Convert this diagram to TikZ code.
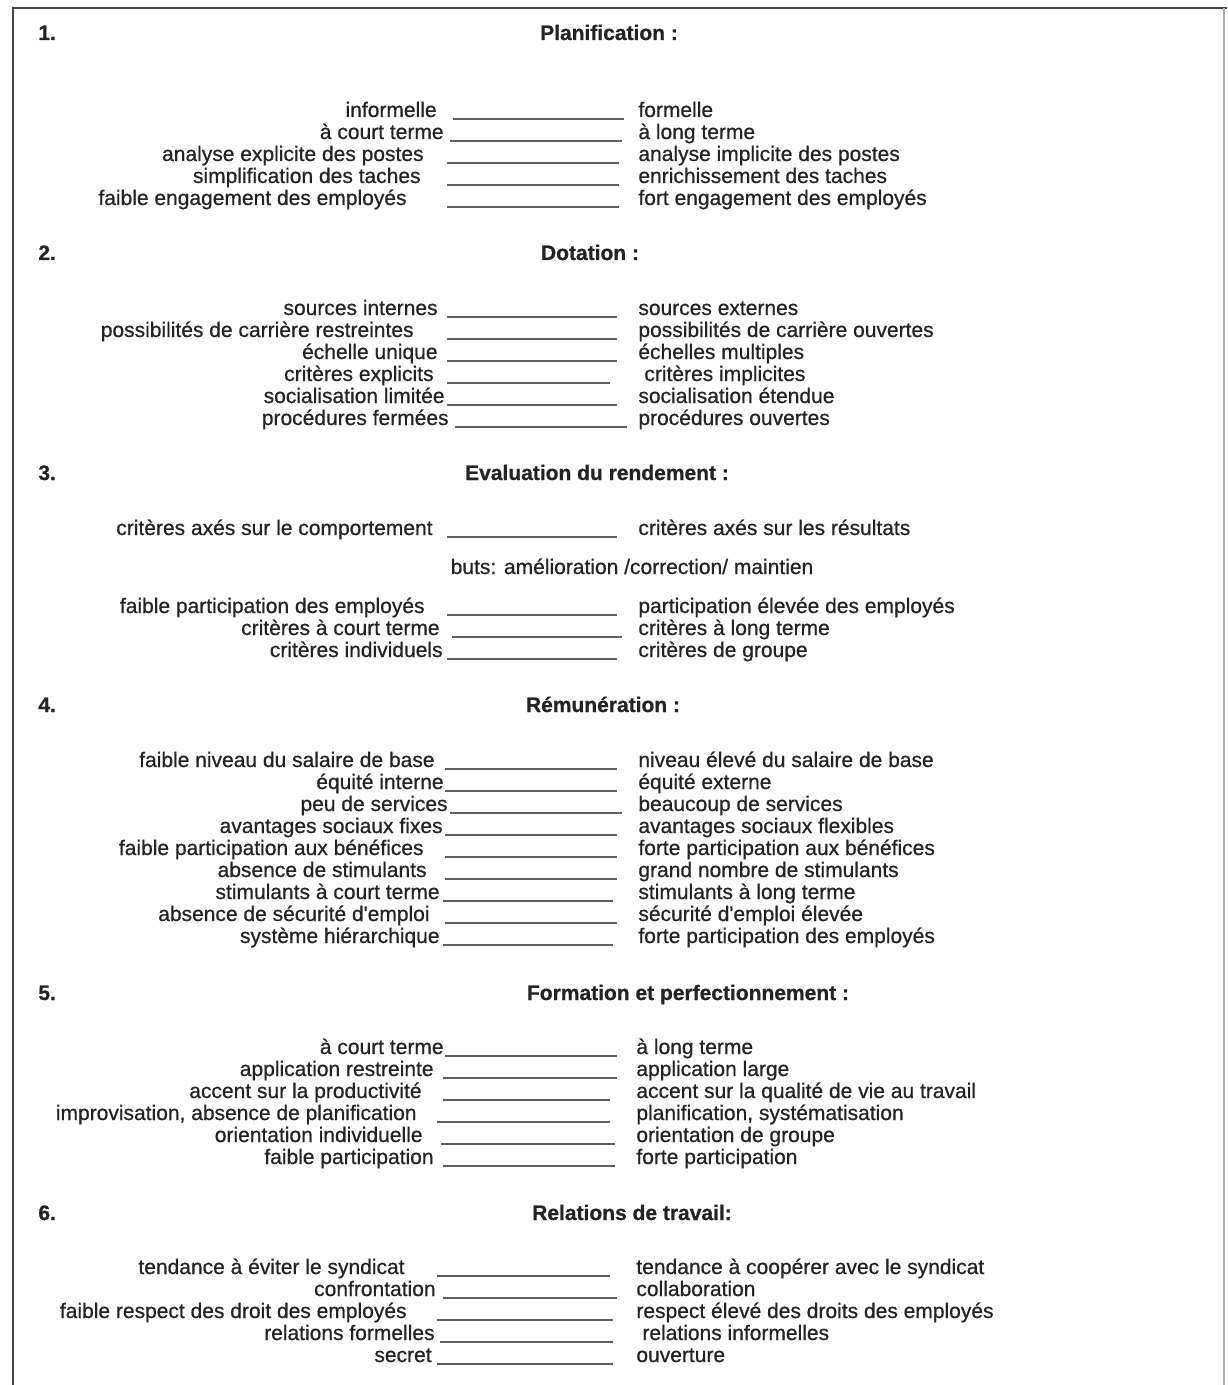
\documentclass[tikz,border=0pt]{standalone}
\usepackage{fontspec}
\setmainfont{Liberation Sans}[FakeBold=0.7]
\usepackage{tikz}
\usetikzlibrary{positioning, calc}
\usepackage{xcolor}
\definecolor{encre}{RGB}{35,35,35}
\definecolor{trace}{RGB}{95,95,95}
\definecolor{bord}{RGB}{70,70,70}
\definecolor{pale}{RGB}{175,175,175}
\newfontfamily\epais{Liberation Sans}[FakeBold=0.6]

% one row of the scale: y, left end, left text, blank from, blank to, right start, right text
\newcommand{\paire}[7]{%
  \node[gauche] (g#1) at (#2,{#1+7}) {#3};
  \node[droite] (d#1) at (#6,{#1+7}) {#7};
  \coordinate (a#1) at (#4,{#1+9});
  \coordinate (b#1) at (#5,{#1+9});
  \draw[trait] (a#1) -- (b#1);
}
\newcommand{\rubrique}[4]{%
  \node[numero] (n#1) at (38,{#1+7}) {#2};
  \node[titre] (t#1) at (#3,{#1+7}) {#4};
}

\begin{document}
\begin{tikzpicture}[x=0.5pt, y=-0.5pt,
    every node/.style={inner sep=0pt, text=encre, font=\epais\fontsize{10.5}{12}\selectfont},
    gauche/.style={anchor=base east},
    droite/.style={anchor=base west},
    titre/.style={anchor=base, font=\rmfamily\fontsize{10.5}{12}\selectfont\bfseries},
    numero/.style={anchor=base west, font=\rmfamily\fontsize{10.5}{12}\selectfont\bfseries},
    trait/.style={trace, line width=1pt},
    cadre/.style={bord, line width=1.3pt}]
  \useasboundingbox (0,0) rectangle (1227,1385);
  \fill[white] (0,0) rectangle (1227,1385);
  % frame of the page
  \draw[cadre] (13,1385) -- (13,8) -- (1227,8);
  \draw[pale, line width=0.6pt] (1224,8) -- (1224,1385);

  % 1
  \rubrique{33}{1.}{609}{Planification :}
  \paire{110}{437}{informelle}{453}{624}{638}{formelle}
  \paire{132}{444}{à court terme}{450}{622}{638}{à long terme}
  \paire{154}{424}{analyse explicite des postes}{447}{619}{638}{analyse implicite des postes}
  \paire{176}{421}{simplification des taches}{447}{619}{638}{enrichissement des taches}
  \paire{198}{407}{faible engagement des employés}{447}{619}{638}{fort engagement des employés}

  % 2
  \rubrique{253}{2.}{590}{Dotation :}
  \paire{308}{438}{sources internes}{447}{617}{638}{sources externes}
  \paire{330}{414}{possibilités de carrière restreintes}{447}{617}{638}{possibilités de carrière ouvertes}
  \paire{352}{438}{échelle unique}{447}{617}{638}{échelles multiples}
  \paire{374}{434}{critères explicits}{447}{610}{644}{critères implicites}
  \paire{396}{445}{socialisation limitée}{447}{617}{638}{socialisation étendue}
  \paire{418}{449}{procédures fermées}{455}{627}{638}{procédures ouvertes}

  % 3
  \rubrique{473}{3.}{597}{Evaluation du rendement :}
  \paire{528}{433}{critères axés sur le comportement}{447}{617}{638}{critères axés sur les résultats}
  \node[anchor=base] (buts) at (632,574) {buts: amélioration /correction/ maintien};
  \paire{606}{425}{faible participation des employés}{447}{617}{638}{participation élevée des employés}
  \paire{628}{440}{critères à court terme}{452}{622}{638}{critères à long terme}
  \paire{650}{443}{critères individuels}{447}{617}{638}{critères de groupe}

  % 4
  \rubrique{705}{4.}{603}{Rémunération :}
  \paire{760}{435}{faible niveau du salaire de base}{445}{617}{638}{niveau élevé du salaire de base}
  \paire{782}{444}{équité interne}{445}{617}{638}{équité externe}
  \paire{804}{448}{peu de services}{450}{622}{638}{beaucoup de services}
  \paire{826}{443}{avantages sociaux fixes}{445}{617}{638}{avantages sociaux flexibles}
  \paire{848}{424}{faible participation aux bénéfices}{445}{617}{638}{forte participation aux bénéfices}
  \paire{870}{427}{absence de stimulants}{445}{617}{638}{grand nombre de stimulants}
  \paire{892}{440}{stimulants à court terme}{443}{613}{638}{stimulants à long terme}
  \paire{914}{430}{absence de sécurité d'emploi}{445}{617}{638}{sécurité d'emploi élevée}
  \paire{936}{440}{système hiérarchique}{443}{613}{638}{forte participation des employés}

  % 5
  \rubrique{993}{5.}{688}{Formation et perfectionnement :}
  \paire{1047}{444}{à court terme}{445}{617}{636}{à long terme}
  \paire{1069}{434}{application restreinte}{443}{617}{636}{application large}
  \paire{1091}{422}{accent sur la productivité}{443}{610}{636}{accent sur la qualité de vie au travail}
  \paire{1113}{417}{improvisation, absence de planification}{437}{610}{636}{planification, systématisation}
  \paire{1135}{423}{orientation individuelle}{441}{615}{636}{orientation de groupe}
  \paire{1157}{434}{faible participation}{443}{615}{636}{forte participation}

  % 6
  \rubrique{1213}{6.}{632}{Relations de travail:}
  \paire{1267}{405}{tendance à éviter le syndicat}{437}{610}{636}{tendance à coopérer avec le syndicat}
  \paire{1289}{436}{confrontation}{443}{617}{636}{collaboration}
  \paire{1311}{407}{faible respect des droit des employés}{437}{613}{636}{respect élevé des droits des employés}
  \paire{1333}{435}{relations formelles}{440}{613}{642}{relations informelles}
  \paire{1355}{432}{secret}{437}{613}{636}{ouverture}
\end{tikzpicture}
\end{document}
